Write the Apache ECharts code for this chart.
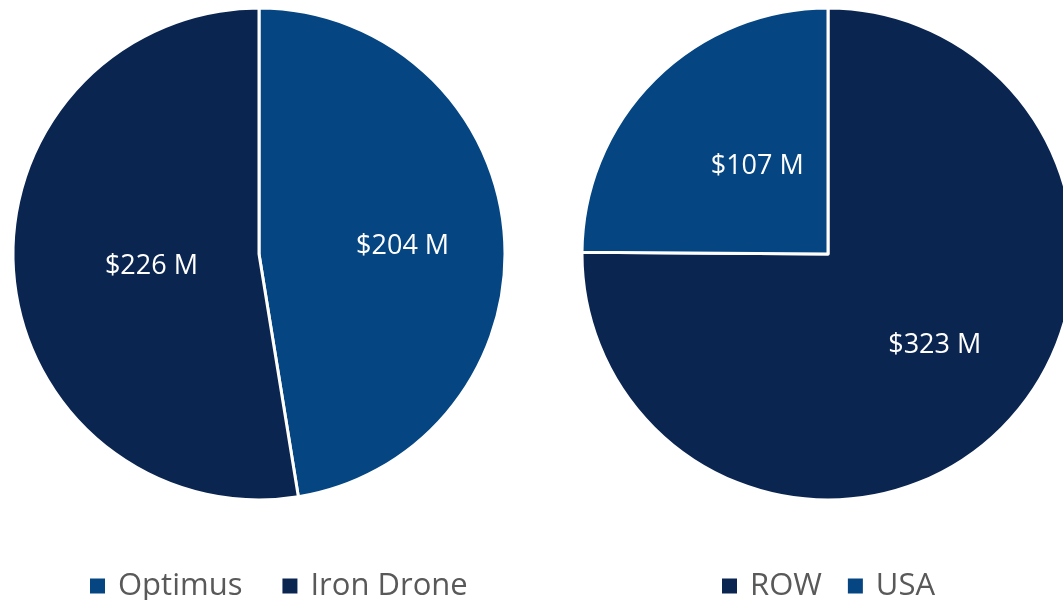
<!DOCTYPE html>
<html>
<head>
<meta charset="utf-8">
<script src="https://cdn.jsdelivr.net/npm/echarts@6/dist/echarts.min.js"></script>
<style>
  html, body { margin: 0; padding: 0; background: #ffffff; }
  #chart { width: 1063px; height: 600px; }
</style>
</head>
<body>
<div id="chart"></div>
<script>
// left pie: by product
const productNames = ["Optimus", "Iron Drone"];
const productValues = [204, 226];
// right pie: by region
const regionNames = ["ROW", "USA"];
const regionValues = [323, 107];

const DARK = "#0b2551";
const BLUE = "#044582";
const productColors = [BLUE, DARK];
const regionColors = [DARK, BLUE];

const chart = echarts.init(document.getElementById("chart"));

const makePie = (names, values, colors, center) => ({
  type: "pie",
  radius: 246,
  center: center,
  startAngle: 90,
  clockwise: true,
  animation: false,
  silent: true,
  itemStyle: { borderColor: "#ffffff", borderWidth: 3 },
  label: {
    show: true,
    position: "inside",
    offset: [18, 2],
    color: "#ffffff",
    fontFamily: "Open Sans",
    fontSize: 27,
    formatter: p => "$" + p.value + " M"
  },
  labelLine: { show: false },
  data: names.map((n, i) => ({
    name: n,
    value: values[i],
    itemStyle: { color: colors[i] }
  }))
});

const legendStyle = {
  orient: "horizontal",
  top: 568,
  padding: 0,
  itemWidth: 15,
  itemHeight: 15,
  icon: "rect",
  selectedMode: false,
  itemStyle: { borderWidth: 0 },
  textStyle: {
    color: "#595959",
    fontFamily: "Open Sans",
    fontSize: 31,
    lineHeight: 36,
    padding: [0, 0, 0, 8]
  }
};

chart.setOption({
  animation: false,
  legend: [
    Object.assign({}, legendStyle, { left: 90, itemGap: 40, data: productNames }),
    Object.assign({}, legendStyle, { left: 722, itemGap: 26, data: regionNames })
  ],
  series: [
    makePie(productNames, productValues, productColors, [259, 254]),
    makePie(regionNames, regionValues, regionColors, [828, 254])
  ]
});
</script>
</body>
</html>
